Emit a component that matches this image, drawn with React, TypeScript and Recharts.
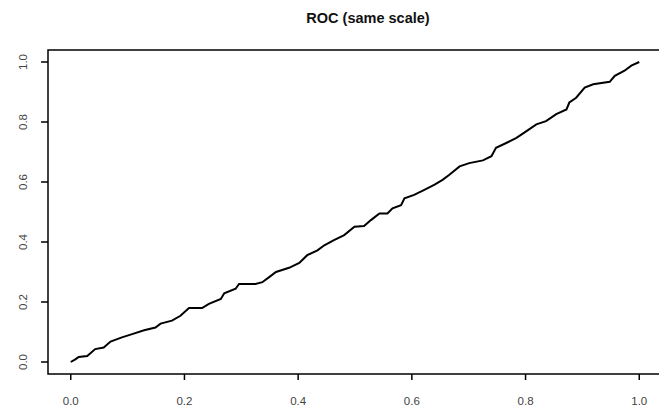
import React from "react";
import { LineChart, Line, XAxis, YAxis, ReferenceArea } from "recharts";

const fpr = [0, 0.008, 0.014, 0.029, 0.043, 0.058, 0.07, 0.09, 0.108, 0.129, 0.149, 0.158, 0.178, 0.193, 0.208, 0.231, 0.243, 0.264, 0.27, 0.29, 0.296, 0.325, 0.337, 0.349, 0.361, 0.384, 0.402, 0.416, 0.434, 0.446, 0.463, 0.481, 0.499, 0.516, 0.528, 0.543, 0.557, 0.566, 0.581, 0.587, 0.604, 0.622, 0.64, 0.654, 0.666, 0.684, 0.701, 0.725, 0.74, 0.748, 0.766, 0.784, 0.801, 0.819, 0.836, 0.854, 0.872, 0.877, 0.889, 0.904, 0.919, 0.948, 0.957, 0.974, 0.986, 1.0];
const tpr = [0, 0.009, 0.017, 0.02, 0.043, 0.048, 0.068, 0.082, 0.093, 0.106, 0.115, 0.128, 0.138, 0.154, 0.18, 0.18, 0.194, 0.21, 0.229, 0.244, 0.26, 0.26, 0.266, 0.283, 0.3, 0.314, 0.33, 0.356, 0.372, 0.389, 0.406, 0.423, 0.451, 0.453, 0.473, 0.495, 0.495, 0.512, 0.523, 0.546, 0.557, 0.574, 0.591, 0.607, 0.624, 0.652, 0.663, 0.672, 0.686, 0.714, 0.73, 0.747, 0.769, 0.792, 0.803, 0.826, 0.842, 0.865, 0.881, 0.915, 0.926, 0.934, 0.954, 0.971, 0.988, 1.0];
const xTicks = [0, 0.2, 0.4, 0.6, 0.8, 1.0];
const yTicks = [0, 0.2, 0.4, 0.6, 0.8, 1.0];
const title = "ROC (same scale)";

const data = fpr.map((x, i) => ({ x, y: tpr[i] }));
const FONT = "'Liberation Sans', Arial, sans-serif";

const XTick = (props: any) => {
  const { x, y, payload } = props;
  return (
    <text x={x} y={y} dy={23} textAnchor="middle" fontSize={11.5} fill="#444" fontFamily={FONT}>
      {payload.value.toFixed(1)}
    </text>
  );
};

const YTick = (props: any) => {
  const { y, payload } = props;
  const cx = 27;
  return (
    <text x={cx} y={y} textAnchor="middle" fontSize={11.5} fill="#444" fontFamily={FONT} transform={`rotate(-90, ${cx}, ${y})`}>
      {payload.value.toFixed(1)}
    </text>
  );
};

export default function App() {
  return (
    <div style={{ position: "absolute", left: 0, top: 0, width: 659, height: 413, overflow: "hidden", background: "#fff" }}>
      <div style={{ position: "absolute", left: 0, top: 10, width: 736, textAlign: "center", fontFamily: FONT, fontWeight: "bold", fontSize: 14.5, color: "#111" }}>
        {title}
      </div>
      <LineChart width={680} height={413} data={data} margin={{ top: 50, right: 18, bottom: 0, left: 0 }}>
        <XAxis
          type="number"
          dataKey="x"
          domain={[-0.04, 1.04]}
          ticks={xTicks}
          allowDataOverflow
          axisLine={false}
          tickLine={{ stroke: "#000", strokeWidth: 1.5 }}
          tickSize={6}
          height={39}
          tick={<XTick />}
        />
        <YAxis
          type="number"
          dataKey="y"
          domain={[-0.04, 1.04]}
          ticks={yTicks}
          allowDataOverflow
          axisLine={false}
          tickLine={{ stroke: "#000", strokeWidth: 1.5 }}
          tickSize={7}
          width={48}
          tick={<YTick />}
        />
        <ReferenceArea x1={-0.04} x2={1.04} y1={-0.04} y2={1.04} fill="none" stroke="#000" strokeWidth={1.5} ifOverflow="visible" />
        <Line type="linear" dataKey="y" stroke="#000" strokeWidth={2} dot={false} isAnimationActive={false} />
      </LineChart>
    </div>
  );
}
